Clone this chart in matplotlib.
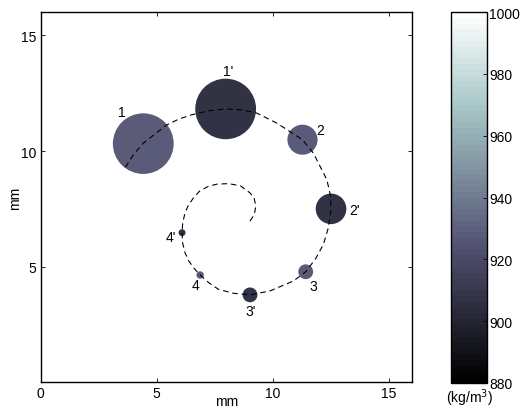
import matplotlib
matplotlib.use("Agg")
import matplotlib.pyplot as plt
from matplotlib.patches import Circle
from matplotlib.collections import PatchCollection

plt.rcParams['font.family'] = ['Liberation Sans', 'DejaVu Sans']
plt.rcParams['font.size'] = 10

# drops: label, centre (mm), radius (mm), density (kg/m3)
labels = ["1", "1'", "2", "2'", "3", "3'", "4", "4'"]
drop_x = [4.42, 7.97, 11.28, 12.51, 11.42, 9.02, 6.87, 6.09]
drop_y = [10.32, 11.82, 10.49, 7.50, 4.78, 3.78, 4.64, 6.47]
drop_r = [1.31, 1.31, 0.65, 0.66, 0.32, 0.32, 0.16, 0.15]
density = [928, 907, 928, 907, 928, 907, 928, 907]

# label positions
label_x = [3.48, 8.09, 12.04, 13.52, 11.75, 9.05, 6.65, 5.62]
label_y = [11.68, 13.46, 10.92, 7.44, 4.16, 3.09, 4.19, 6.28]

# dashed spiral path (inner end -> outer end)
spiral_x = [9.02, 9.20, 9.27, 9.20, 9.02, 8.60, 8.09, 7.60, 7.22, 6.85, 6.58,
            6.36, 6.22, 6.12, 6.09, 6.12, 6.22, 6.38, 6.58, 6.87, 7.25, 7.66,
            8.30, 9.02, 9.88, 10.89, 11.42, 11.85, 12.18, 12.40, 12.51, 12.48,
            12.33, 11.75, 11.28, 10.17, 9.31, 8.70, 7.97, 7.25, 6.51, 5.95,
            5.43, 4.42, 4.00, 3.63]
spiral_y = [6.97, 7.25, 7.61, 7.95, 8.19, 8.50, 8.59, 8.57, 8.47, 8.27, 7.97,
            7.65, 7.33, 6.90, 6.47, 6.00, 5.60, 5.25, 4.96, 4.64, 4.30, 4.02,
            3.85, 3.78, 3.95, 4.38, 4.78, 5.35, 5.96, 6.70, 7.50, 8.10,
            8.76, 9.91, 10.49, 11.21, 11.64, 11.78, 11.82, 11.74, 11.57, 11.38,
            11.13, 10.34, 9.85, 9.27]

cb_ticks = [880, 900, 920, 940, 960, 980, 1000]

fig = plt.figure(figsize=(5.23, 4.14), dpi=100)
ax = fig.add_axes([0.0778, 0.0742, 0.71, 0.8937])
cax = fig.add_axes([0.8623, 0.0725, 0.0698, 0.896])

cmap = plt.get_cmap('bone', 64)
circles = [Circle((x, y), r) for x, y, r in zip(drop_x, drop_y, drop_r)]
pc = PatchCollection(circles, cmap=cmap, edgecolor='none', zorder=2)
pc.set_array(density)
pc.set_clim(880, 1000)
ax.add_collection(pc)

ax.plot(spiral_x, spiral_y, color='black', lw=0.8, dashes=(5, 3.5), zorder=3)

for lab, x, y in zip(labels, label_x, label_y):
    ax.text(x, y, lab, ha='center', va='center', fontsize=10)

ax.set_xlim(0, 16)
ax.set_ylim(0, 16)
ax.set_xticks([0, 5, 10, 15])
ax.set_yticks([5, 10, 15])
ax.tick_params(direction='in', length=3, width=0.6, top=True, right=True, pad=3)
for s in ax.spines.values():
    s.set_linewidth(1.0)
ax.set_xlabel('mm', labelpad=-5)
ax.set_ylabel('mm', labelpad=-1)

cb = fig.colorbar(pc, cax=cax)
cb.set_ticks(cb_ticks)
cb.ax.tick_params(direction='in', length=3, width=0.6, pad=1)
cb.outline.set_linewidth(1.0)
cax.text(0.5, -0.008, '(kg/m$^3$)', transform=cax.transAxes, ha='center', va='top')

fig.savefig('out.png', dpi=100)
